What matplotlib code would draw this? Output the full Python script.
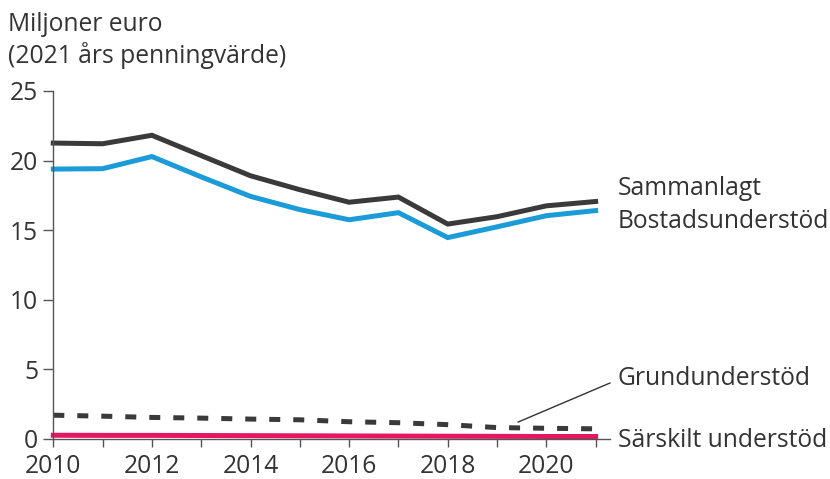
import matplotlib.pyplot as plt

plt.rcParams['font.family'] = ['Open Sans', 'DejaVu Sans']

years = [2010, 2011, 2012, 2013, 2014, 2015, 2016, 2017, 2018, 2019, 2020, 2021]
sammanlagt = [21.26, 21.21, 21.82, 20.36, 18.91, 17.91, 17.01, 17.38, 15.44, 15.97, 16.75, 17.06]
bostad = [19.39, 19.42, 20.29, 18.83, 17.43, 16.48, 15.75, 16.26, 14.47, 15.24, 16.04, 16.41]
grund = [1.71, 1.64, 1.55, 1.50, 1.43, 1.38, 1.24, 1.17, 1.03, 0.82, 0.77, 0.73]
sarskilt = [0.27, 0.26, 0.26, 0.25, 0.24, 0.23, 0.22, 0.21, 0.20, 0.19, 0.18, 0.18]

dark = '#3a3a3a'
blue = '#1b9bd7'
pink = '#e5175f'
txt = '#333333'
fs = 17.7

fig = plt.figure(figsize=(8.3, 4.79), dpi=100)
ax = fig.add_axes([53.3 / 830, 40 / 479, (610.4 - 53.3) / 830, (439 - 91) / 479])

ax.plot(years, sammanlagt, color=dark, lw=3.6, solid_joinstyle='miter', clip_on=False)
ax.plot(years, bostad, color=blue, lw=3.6, solid_joinstyle='miter', clip_on=False)
ax.plot(years, grund, color=dark, lw=3.6, dashes=(2.2, 2.6), dash_capstyle='butt', clip_on=False)
ax.plot(years, sarskilt, color=pink, lw=3.6, clip_on=False)

ax.set_xlim(2010, 2021.3)
ax.set_ylim(0, 25)
ax.spines['top'].set_visible(False)
ax.spines['right'].set_visible(False)
for s in ['left', 'bottom']:
    ax.spines[s].set_color('#555555')
    ax.spines[s].set_linewidth(1.0)

ax.set_yticks([0, 5, 10, 15, 20, 25])
ax.set_xticks(years)
ax.set_xticklabels([str(y) if y % 2 == 0 else '' for y in years])
ax.tick_params(axis='y', length=7.2, width=1.0, color='#555555', pad=3.6, labelsize=fs, labelcolor=txt)
ax.tick_params(axis='x', length=6, width=1.0, color='#555555', pad=4.5, labelsize=fs, labelcolor=txt)

fig.text(8 / 830, 1 - 31 / 479, 'Miljoner euro', fontsize=fs, color=txt, va='baseline')
fig.text(8 / 830, 1 - 63 / 479, '(2021 års penningvärde)', fontsize=fs, color=txt, va='baseline')

lx = 2021.45
ax.text(lx, 17.53, 'Sammanlagt', fontsize=fs, color=txt, va='baseline', clip_on=False)
ax.text(lx, 15.13, 'Bostadsunderstöd', fontsize=fs, color=txt, va='baseline', clip_on=False)
ax.text(lx, 3.88, 'Grundunderstöd', fontsize=fs, color=txt, va='baseline', clip_on=False)
ax.text(lx, -0.55, 'Särskilt understöd', fontsize=fs, color=txt, va='baseline', clip_on=False)
ax.plot([2019.43, 2021.29], [1.22, 4.02], color=txt, lw=1.0, clip_on=False)

fig.savefig('out.png', dpi=100)
